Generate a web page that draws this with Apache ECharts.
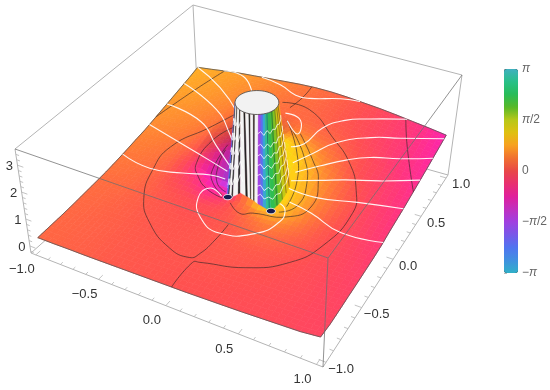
<!DOCTYPE html><html><head><meta charset="utf-8"><style>html,body{margin:0;background:#fff}#c{width:550px;height:390px}</style></head><body><div id="c"></div>
<script src="https://cdn.jsdelivr.net/npm/echarts@6/dist/echarts.min.js"></script>
<script>
// ---------- values ----------
const xTicks=[-1,-0.5,0,0.5,1], xTickLabels=['−1.0','−0.5','0.0','0.5','1.0'];
const yTicks=[-1,-0.5,0,0.5,1], yTickLabels=['−1.0','−0.5','0.0','0.5','1.0'];
const zTicks=[0,1,2,3], zTickLabels=['0','1','2','3'];
const phaseStops=['#30b0c8','#4090e0','#5074f0','#7858e8','#a040e0','#c030c0','#e0209c','#e83070','#e84848','#f07030','#f8a020','#e0c010','#b8c818','#58b828','#28bc58','#28c088','#40b0c0'];
// height x100, rows y=1..-1, columns x=-1..1, step 1/8
const heightRows=[[133,140,148,155,160,165,170,175,178,178,175,170,165,158,150,142,133],
[122,130,137,145,152,160,166,172,175,175,170,162,155,148,140,132,124],
[112,120,127,135,143,152,160,166,170,170,163,153,145,138,130,122,115],
[102,110,117,125,133,143,152,160,165,163,155,145,137,130,122,114,106],
[92,99,106,113,123,135,148,160,168,165,153,138,125,118,112,105,98],
[82,88,95,102,113,127,145,165,180,175,155,132,115,108,102,96,90],
[72,77,83,90,100,118,145,175,200,190,160,125,105,98,93,88,82],
[65,68,72,78,88,105,130,165,200,175,145,110,95,88,84,80,76],
[57,60,63,68,75,80,60,60,100,60,60,85,85,80,75,72,70],
[50,52,55,58,62,62,50,40,50,40,50,60,65,66,66,64,62],
[44,46,48,50,52,53,50,45,45,46,50,54,58,60,60,58,58],
[40,41,42,44,46,46,45,43,43,44,47,50,53,55,55,54,56],
[36,37,38,39,40,41,41,41,41,42,44,46,49,51,52,52,54],
[32,33,34,35,36,37,38,38,39,40,41,43,45,47,49,50,53],
[29,30,30,31,32,33,34,35,36,37,38,40,42,44,46,48,51],
[27,27,28,28,29,30,31,32,33,34,36,38,40,42,44,46,50],
[25,25,26,26,27,28,29,30,31,32,34,36,38,41,44,47,55]];
// phase x100, same layout
const phaseRows=[[75,72,68,63,58,52,46,38,30,22,12,2,-8,-20,-35,-55,-78],
[72,69,65,60,54,48,41,34,27,20,11,2,-8,-20,-33,-50,-72],
[68,65,61,56,50,43,36,30,25,19,12,3,-7,-18,-31,-47,-67],
[63,60,56,51,44,36,28,24,23,21,15,10,0,-14,-29,-44,-62],
[58,55,51,45,37,26,15,14,30,35,30,22,8,-5,-20,-40,-58],
[53,50,46,39,28,12,-5,0,30,70,60,42,20,-2,-18,-32,-50],
[47,44,40,32,12,-10,-30,-50,40,120,95,62,34,8,-12,-30,-46],
[42,39,34,24,2,-35,-85,-130,0,150,115,75,42,14,-7,-25,-42],
[37,34,29,18,-12,-60,-105,-170,0,190,120,80,45,16,-6,-22,-38],
[33,30,25,15,-5,-25,-55,-25,20,60,85,65,35,10,-7,-20,-33],
[29,26,22,14,5,-3,-8,-4,5,25,40,38,22,5,-7,-17,-28],
[25,23,19,13,7,3,0,1,5,12,20,18,10,2,-7,-15,-24],
[23,21,17,12,8,5,3,3,5,7,9,8,4,-2,-8,-14,-21],
[21,19,16,12,9,6,4,4,4,5,5,3,0,-3,-8,-13,-19],
[20,18,15,12,9,7,5,4,3,3,2,0,-2,-5,-8,-12,-17],
[20,18,15,12,9,7,5,3,2,1,0,-2,-4,-6,-9,-12,-16],
[20,18,15,12,9,7,5,3,1,0,-2,-3,-5,-7,-9,-12,-15]];
// darker patch behind the hill, percent; rows y=.625..0, columns x=-.5..0.125
const shadeRows=[[100,97,95,95,97,100],[97,90,85,85,90,97],[93,85,78,75,80,95],[93,85,75,72,80,95],[97,90,82,78,85,100],[100,97,92,85,90,100]];
// phase curves and level curves, world (x,y) x100
const whiteCurves=[[-44,100,-26,95,-9,86,2,86,22,96,35,100],[18,25,22,37,24,61,34,77,48,87,71,100],[24,16,30,33,38,54,56,71,74,81,100,96],[28,12,38,28,50,44,63,54,81,63,100,75],[27,8,43,18,57,28,77,38,100,52],[24,5,47,5,72,14,100,23],[31,-2,49,-7,73,-14,100,-10],[-15,-11,-25,-9,-27,-21,-16,-37,3,-45,25,-35,33,-20,32,-10,26,-4,21,-5],[-100,-4,-73,-10,-48,-7,-30,0,-19,1],[-100,55,-63,43,-37,20,-16,5],[-100,80,-58,57,-33,32,-15,10],[-100,100,-69,81,-41,57],[-77,100,-58,97,-42,81],[-100,31,-62,18,-34,7,-19,4],[-6,64,7,61,14,43,0,55],[-15,-3,-8,-6,-3,-2,2,-7,8,-6]];
const blackCurves=[[-76,100,-87,75,-100,40],[-38,60,-53,38,-71,14,-70,-11,-60,-37,-43,-56,-18,-71,-2,-73,2,-67,4,-52,4,-35],[-14,75,8,74,34,57,53,43,67,23,73,4,68,-29,56,-51,34,-66,6,-74,2,-76,2,-100],[70,100,81,76,100,40],[-3,100,-3,85,-6,71],[-34,40,-43,25,-43,3,-36,-6,-26,-11,-14,-12],[15,45,33,28,42,18,47,-3,35,-14,12,-17,5,-22,-6,-15],[-27,19,-30,3,-26,-4,-15,-10],[9,45,28,25,37,11,38,-5,28,-11],[0,55,23,24,31,8,31,-6],[-26,14,-27,6,-23,-3,-14,-7]];
// the pole and the two zeros
const poleX=0, poleY=0.104, poleR=0.14, zTop=3.6;
const zeroX=[-0.166,0.166], zeroY=[0,0], zeroR=[0.03,0.03];
// foot of the tower, by angle round the pole (degrees)
const ringTheta=[208,235,250,270,290,310,328,345,360,375,388];
const baseR=[.2,.18,.145,.104,.125,.156,.198,.21,.22,.23,.22];
const baseZ=[.1,.3,.5,.3,.3,.2,.08,.25,.45,.65,.75];
// stripes on the tower: edges (degrees) and phase; 9 = white, -9 = black
const stripeEdges=[208,218,223,232,236,246,250,262,267,277,281,289,293,302,308,314,320,328,336,344,352,360,370,388];
const stripePhase=[-2.3,-9,9,-9,9,-9,9,-9,9,-9,9,-9,9,-1.6,-2.2,-3,2.8,2.3,2.1,1.8,1.5,1.2,0.9];
const towerLevelTheta=[325,340,352,362,372];
const wiggleTheta=[300,308,316,324,332,340,348,356,364,372,380,388];
const wiggleRows=[[.08,.12,.09,.13,.10,.12,.09,.12,.10,.12,.11,.13],[.19,.22,.18,.23,.19,.22,.19,.23,.20,.22,.21,.24],[.31,.34,.30,.35,.31,.34,.31,.35,.32,.34,.33,.36],[.42,.45,.41,.46,.42,.45,.42,.46,.43,.45,.44,.47],[.53,.56,.52,.57,.53,.56,.53,.57,.54,.56,.55,.58],[.64,.67,.63,.68,.64,.67,.64,.68,.65,.67,.66,.69],[.78,.81,.77,.82,.78,.81,.79,.82,.80,.81,.81,.83]];
const wiggleLeftTheta=[208,214,220,226,232,238,244,250,256];
const wiggleLeftRows=[[.10,.18,.12,.20,.13,.21,.14,.22,.15],[.28,.35,.29,.37,.30,.36,.30,.38,.31],[.46,.52,.45,.54,.47,.53,.46,.55,.48],[.62,.68,.61,.70,.63,.69,.62,.71,.64],[.80,.84,.78,.85,.79,.84,.78,.86,.80]];

// ---------- projection of the plot box ----------
function quad(q){const [x0,y0,x1,y1,x2,y2,x3,y3]=q;const dx1=x1-x2,dx2=x3-x2,sx=x0-x1+x2-x3,dy1=y1-y2,dy2=y3-y2,sy=y0-y1+y2-y3;const den=dx1*dy2-dx2*dy1;const g=(sx*dy2-dx2*sy)/den,h=(dx1*sy-sx*dy1)/den;return {a:x1-x0+g*x1,b:x3-x0+h*x3,c:x0,d:y1-y0+g*y1,e:y3-y0+h*y3,f:y0,g,h};}
const B=quad([31,253,323,367,448,175,198,105]),T=quad([15,149,328,258,462,75,193,5]);
function hp(m,u,v){const w=m.g*u+m.h*v+1;return [(m.a*u+m.b*v+m.c)/w,(m.d*u+m.e*v+m.f)/w];}
const zmin=-.26,zmax=3.6,PAD=1.04;
function proj(x,y,z){const u=(x+PAD)/(2*PAD),v=(y+PAD)/(2*PAD),t=(z-zmin)/(zmax-zmin),p=hp(B,u,v),q=hp(T,u,v);return [p[0]+(q[0]-p[0])*t,p[1]+(q[1]-p[1])*t];}
function tableAt(tb,x,y){const c=Math.min(15.999,Math.max(0,(x+1)*8)),r=Math.min(15.999,Math.max(0,(1-y)*8));const i=Math.floor(c),j=Math.floor(r),s=c-i,t=r-j;return (tb[j][i]*(1-s)*(1-t)+tb[j][i+1]*s*(1-t)+tb[j+1][i]*(1-s)*t+tb[j+1][i+1]*s*t)/100;}
function shadeAt(x,y){const c=(x+.5)*8,r=(.625-y)*8;if(c<0||c>=5||r<0||r>=5)return 1;const i=Math.floor(c),j=Math.floor(r),s=c-i,t=r-j,R=shadeRows;return (R[j][i]*(1-s)*(1-t)+R[j][i+1]*s*(1-t)+R[j+1][i]*(1-s)*t+R[j+1][i+1]*s*t)/100;}
const hAt=(x,y)=>tableAt(heightRows,x,y);
function lookup(xs,ys,v){for(let i=1;i<xs.length;i++)if(v<=xs[i]){const t=(v-xs[i-1])/(xs[i]-xs[i-1]);return ys[i-1]+(ys[i]-ys[i-1])*t;}return ys[ys.length-1];}
function towerPoint(th,t){const a=th*Math.PI/180,r=lookup(ringTheta,baseR,th),bz=lookup(ringTheta,baseZ,th);const rr=r+(poleR-r)*t,z=bz+(zTop-bz)*t;return proj(poleX+rr*Math.cos(a),poleY+rr*Math.sin(a),z);}
function lit(c,k){const m=String(c).match(/[\d.]+/g);if(!m||String(c)[0]==='#')return c;return 'rgb('+Math.min(255,m[0]*k|0)+','+Math.min(255,m[1]*k|0)+','+Math.min(255,m[2]*k|0)+')';}

// ---------- series data ----------
const SUB=3, surfaceData=[];
for(let j=0;j<16*SUB;j++)for(let i=0;i<16*SUB;i++){const x0=-1+i/(8*SUB),x1=-1+(i+1)/(8*SUB),y0=1-j/(8*SUB),y1=1-(j+1)/(8*SUB);surfaceData.push([x0,y0,x1,y1,tableAt(phaseRows,(x0+x1)/2,(y0+y1)/2)]);}
const towerData=[];
stripePhase.forEach((p,i)=>towerData.push([stripeEdges[i],stripeEdges[i+1],0,0,p]));
const zz=[zmin,zmax];
const L=PAD;
const backEdges=[[-L,-L,0,-L,-L,1],[L,L,0,L,L,1],[-L,L,0,-L,L,1],[-L,-L,1,-L,L,1],[-L,L,1,L,L,1],[-L,-L,0,-L,L,0],[-L,L,0,L,L,0]];
const frontEdges=[[-L,-L,1,L,-L,1],[L,-L,1,L,L,1],[L,-L,0,L,-L,1]];
const bottomEdges=[[-L,-L,0,L,-L,0],[L,-L,0,L,L,0]];
function tickList(){const out=[];
 for(let k=-10;k<=10;k++){const v=k/10,m=k%5===0?.045:.025;out.push([v,-L,zmin,v,-L+m,zmin]);out.push([L,v,zmin,L-m,v,zmin]);}
 for(let k=-1;k<=17;k++){const v=k/5;if(v<zmin||v>zmax)continue;const m=k%5===0?.045:.025;out.push([-L,-L,v,-L+m,-L,v]);}
 return out;}
const tickData=tickList();
const textData=[];
xTicks.forEach((v,i)=>textData.push({p:[v,-L,zmin],o:[-14,15],s:xTickLabels[i]}));
yTicks.forEach((v,i)=>textData.push({p:[L,v,zmin],o:[15,7],s:yTickLabels[i]}));
zTicks.forEach((v,i)=>textData.push({p:[-L,-L,v],o:[-8,1],s:zTickLabels[i]}));

const line=(pts,stroke,w,smooth,api)=>({type:'polyline',shape:{points:pts.map(p=>api.coord(p)),smooth:smooth||0},style:{stroke,lineWidth:w,fill:null}});
const base={type:'custom',xAxisIndex:0,yAxisIndex:0,silent:true,animation:false,clip:false};
function curveSeries(list,stroke,w,z){return Object.assign({},base,{z,data:list.map((c,i)=>[i]),renderItem(p,api){const c=list[api.value(0)],pts=[];for(let i=0;i<c.length;i+=2){const x=c[i]/100,y=c[i+1]/100;pts.push(proj(x,y,hAt(x,y)));}return line(pts,stroke,w,.5,api);}});}
function edgeSeries(list,stroke,w,z){return Object.assign({},base,{z,data:list.map((c,i)=>[i]),renderItem(p,api){const e=list[api.value(0)];return line([proj(e[0],e[1],zz[e[2]]),proj(e[3],e[4],zz[e[5]])],stroke,w,0,api);}});}
function segSeries(list,stroke,w,z){return Object.assign({},base,{z,data:list.map((c,i)=>[i]),renderItem(p,api){const e=list[api.value(0)];return line([proj(e[0],e[1],e[2]),proj(e[3],e[4],e[5])],stroke,w,0,api);}});}
function ringPoints(cx,cy,r,z){const pts=[];for(let k=0;k<48;k++){const a=k/48*2*Math.PI;pts.push(proj(cx+r*Math.cos(a),cy+r*Math.sin(a),z));}return pts;}
function borderPts(){const out=[[],[],[],[]];for(let k=0;k<=16;k++){const s=-1+k/8;out[0].push([s,1]);out[1].push([s,-1]);out[2].push([-1,s]);out[3].push([1,s]);}return out;}

const series=[
 edgeSeries(backEdges,'#b4b4b4',1,1),
 edgeSeries(bottomEdges,'#b4b4b4',1,1),
 segSeries(tickData,'#b4b4b4',.8,1),
 Object.assign({},base,{z:2,data:surfaceData,renderItem(p,api){const x0=api.value(0),y0=api.value(1),x1=api.value(2),y1=api.value(3),c=lit(api.visual('color'),1.12*shadeAt((x0+x1)/2,(y0+y1)/2));
   const pts=[[x0,y0],[x1,y0],[x1,y1],[x0,y1]].map(q=>api.coord(proj(q[0],q[1],hAt(q[0],q[1]))));
   return {type:'polygon',shape:{points:pts},style:{fill:c,stroke:c,lineWidth:.7}};}}),
 Object.assign({},base,{z:3,data:borderPts().map((c,i)=>[i]),renderItem(p,api){const pts=borderPts()[api.value(0)].map(q=>proj(q[0],q[1],hAt(q[0],q[1])));return line(pts,'#555',.8,0,api);}}),
 curveSeries(blackCurves,'rgba(50,40,40,.8)',.8,4),
 curveSeries(whiteCurves,'rgba(255,255,255,.92)',1.1,5),
 Object.assign({},base,{z:6,data:towerData,renderItem(p,api){const a=api.value(0),b=api.value(1),ph=api.value(4);
   const top=[],bot=[];for(let th=a;th<=b+.01;th+=Math.max(1,(b-a)/4)){top.push(towerPoint(th,1));bot.unshift(towerPoint(th,0));}
   const c=ph===9?'#f4f4f4':ph===-9?'#222':lit(api.visual('color'),1.02);
   return {type:'polygon',shape:{points:top.concat(bot).map(q=>api.coord(q))},style:{fill:c,stroke:c,lineWidth:.5}};}}),
 Object.assign({},base,{z:7,data:towerLevelTheta.map((c,i)=>[i]),renderItem(p,api){const th=towerLevelTheta[api.value(0)];return line([towerPoint(th,0),towerPoint(th,1)],'rgba(20,30,30,.55)',.7,0,api);}}),
 Object.assign({},base,{z:8,data:wiggleRows.map((c,i)=>[i]),renderItem(p,api){const r=wiggleRows[api.value(0)];return line(wiggleTheta.map((th,i)=>towerPoint(th,r[i])),'rgba(255,255,255,.85)',.9,0,api);}}),
 Object.assign({},base,{z:8,data:wiggleLeftRows.map((c,i)=>[i]),renderItem(p,api){const r=wiggleLeftRows[api.value(0)];return line(wiggleLeftTheta.map((th,i)=>towerPoint(th,r[i])),'rgba(255,255,255,.85)',.9,0,api);}}),
 Object.assign({},base,{z:9,data:[[0]],renderItem(p,api){return {type:'polygon',shape:{points:ringPoints(poleX,poleY,poleR,zTop).map(q=>api.coord(q))},style:{fill:'#f2f2f2',stroke:'#444',lineWidth:.8}};}}),
 Object.assign({},base,{z:9,data:zeroX.map((c,i)=>[i]),renderItem(p,api){const i=api.value(0);return {type:'polygon',shape:{points:ringPoints(zeroX[i],zeroY[i],zeroR[i],.05).map(q=>api.coord(q))},style:{fill:'#161c50',stroke:'#fff',lineWidth:1}};}}),
 edgeSeries(frontEdges,'rgba(110,110,110,.75)',1,10),
 Object.assign({},base,{z:11,data:textData.map((c,i)=>[i]),renderItem(p,api){const d=textData[api.value(0)],q=proj(d.p[0],d.p[1],d.p[2]),c=api.coord([q[0]+d.o[0],q[1]+d.o[1]]);
   return {type:'text',x:c[0],y:c[1],style:{text:d.s,fill:'#333',font:'13px "Liberation Sans"',align:'center',verticalAlign:'middle'}};}})
];
const surfaceIndex=3, towerIndex=7;
const option={animation:false,
 grid:[{left:0,right:0,top:0,bottom:0},{left:504,top:69,width:14,height:204}],
 xAxis:[{type:'value',min:0,max:550,show:false,gridIndex:0},{type:'value',min:0,max:1,show:false,gridIndex:1}],
 yAxis:[{type:'value',min:0,max:390,inverse:true,show:false,gridIndex:0},
  {type:'value',gridIndex:1,position:'right',min:-Math.PI,max:Math.PI,interval:Math.PI/2,splitLine:{show:false},
   axisLine:{show:false},axisTick:{show:true,length:3,lineStyle:{color:'#bbb'}},minorTick:{show:true,splitNumber:5,length:2,lineStyle:{color:'#bbb'}},
   axisLabel:{margin:9,align:'left',color:'#666',fontFamily:'Liberation Sans',fontSize:12,
    formatter(v){const k=Math.round(v/(Math.PI/2));return {'-2':'−{i|π}','-1':'−{i|π}/2','0':'0','1':'{i|π}/2','2':'{i|π}'}[k];},
    rich:{i:{fontStyle:'italic',fontFamily:'Liberation Sans',fontSize:12,color:'#666'}}}}],
 visualMap:[{type:'continuous',min:-Math.PI,max:Math.PI,dimension:4,seriesIndex:[surfaceIndex,towerIndex],calculable:false,hoverLink:false,
   left:504,top:69,itemWidth:14,itemHeight:204,padding:0,text:null,inRange:{color:phaseStops},outOfRange:{color:'#000'}}],
 series};
const chart=echarts.init(document.getElementById('c'),null,{renderer:'canvas'});
chart.setOption(option);
</script></body></html>
